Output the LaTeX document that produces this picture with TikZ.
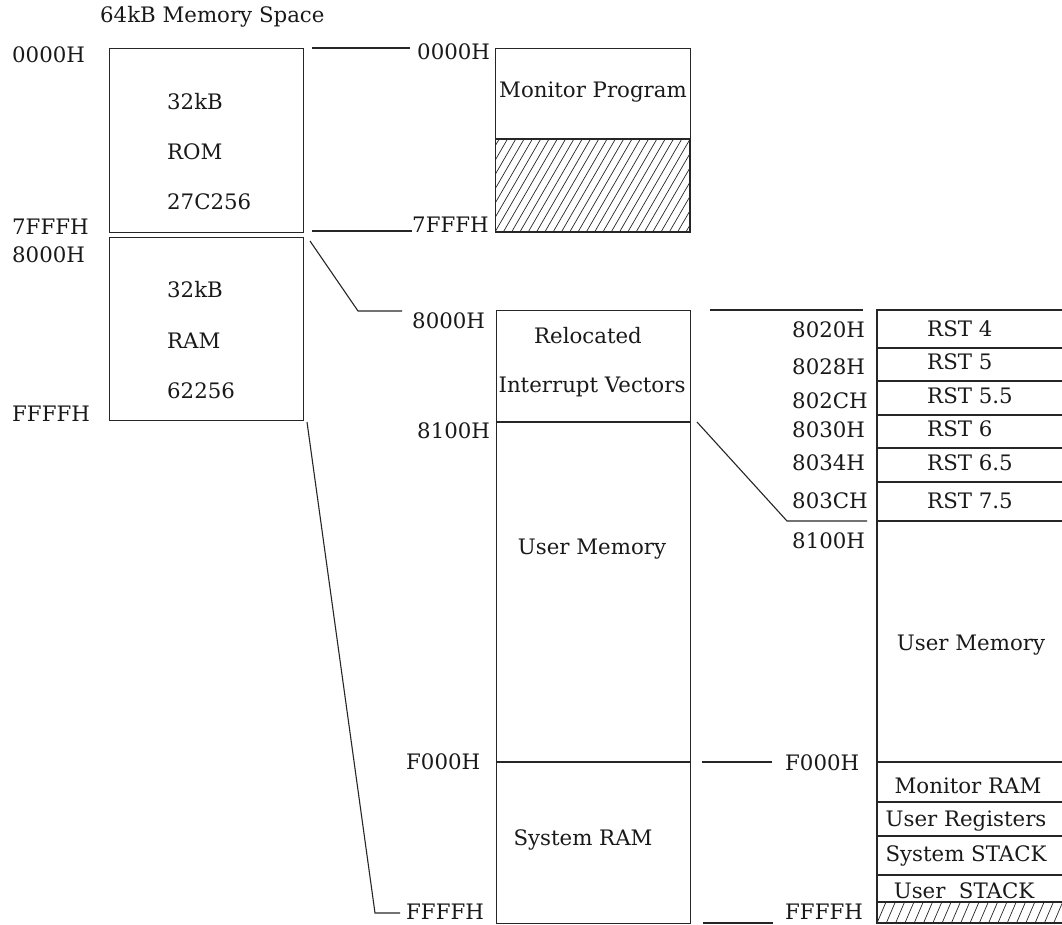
\documentclass[tikz,border=0pt]{standalone}
\usepackage{fontspec}
\setmainfont{DejaVu Serif}
\usetikzlibrary{calc}
\begin{document}
\begin{tikzpicture}[x=1pt,y=-1pt,
  txt/.style={inner sep=0pt, font=\fontsize{21.3}{25}\selectfont, text=black!90},
  lbl/.style={txt, anchor=base west},
  ctr/.style={txt, anchor=base},
  membox/.style={draw=black!85, line width=1.3pt, inner sep=0pt, anchor=north west},
  divider/.style={draw=black!85, line width=1.3pt},
  conn/.style={draw=black!85, line width=1.1pt},
  hatchln/.style={draw=black!85, line width=0.7pt}]
\useasboundingbox (0,0) rectangle (1062,925);

% ---------- left: 64kB memory space ----------
\node[lbl] (title) at (100,23) {64kB Memory Space};
\node[membox, minimum width=194pt, minimum height=184pt] (rom) at (109,48) {};
\node[membox, minimum width=194pt, minimum height=183pt] (ram) at (109,237) {};
\node[lbl] (a0) at (12,63) {0000H};
\node[lbl] (a1) at (12,235) {7FFFH};
\node[lbl] (a2) at (12,262) {8000H};
\node[lbl] (a3) at (12,421) {FFFFH};
\node[lbl] (r1) at (167,110) {32kB};
\node[lbl] (r2) at (167,160) {ROM};
\node[lbl] (r3) at (167,210) {27C256};
\node[lbl] (m1) at (167,297) {32kB};
\node[lbl] (m2) at (167,348) {RAM};
\node[lbl] (m3) at (167,398) {62256};

% ---------- monitor program (ROM) ----------
\node[membox, minimum width=195pt, minimum height=184pt] (mon) at (495,48) {};
\draw[divider] (495,139) -- (690,139);
\begin{scope}
  \clip (495,139) rectangle (690,232);
  \foreach \i in {-8,...,25} \draw[hatchln] (495+\i*8.3,232) -- ++(54,-93);
\end{scope}
\draw[divider] (690,139) -- (690,232) -- (495,232);
\node[ctr] (monl) at (593,98) {Monitor Program};
\node[lbl] (b0) at (417,60) {0000H};
\node[lbl] (b1) at (412,233) {7FFFH};

% ---------- middle: RAM map ----------
\node[membox, minimum width=194pt, minimum height=613pt] (mid) at (496,310) {};
\draw[divider] (496,422) -- (690,422);
\draw[divider] (496,762) -- (690,762);
\node[ctr] (reloc) at (588,343) {Relocated};
\node[ctr] (intv) at (592,392) {Interrupt Vectors};
\node[ctr] (umem) at (592,554) {User Memory};
\node[ctr] (sram) at (583,845) {System RAM};
\node[lbl] (c0) at (412,328) {8000H};
\node[lbl] (c1) at (417,438) {8100H};
\node[lbl] (c2) at (406,769) {F000H};
\node[lbl] (c3) at (406,919) {FFFFH};

% ---------- right: detail ----------
\draw[divider] (1062,310) -- (877,310) -- (877,923) -- (1062,923);
\foreach \y in {348,381,415,448,482,521,762,802,836,875,902}
  \draw[divider] (877,\y) -- (1062,\y);
\begin{scope}
  \clip (877,902) rectangle (1062,923);
  \foreach \i in {-2,...,21} \draw[hatchln] (877+\i*9.3,923) -- ++(9,-21);
\end{scope}
\node[lbl] (d0) at (792,337) {8020H};
\node[lbl] (d1) at (792,374) {8028H};
\node[lbl] (d2) at (792,408) {802CH};
\node[lbl] (d3) at (792,437) {8030H};
\node[lbl] (d4) at (792,470) {8034H};
\node[lbl] (d5) at (792,508) {803CH};
\node[lbl] (d6) at (792,548) {8100H};
\node[lbl] (d7) at (785,770) {F000H};
\node[lbl] (d8) at (785,919) {FFFFH};
\node[lbl] (s0) at (927,336) {RST 4};
\node[lbl] (s1) at (927,369) {RST 5};
\node[lbl] (s2) at (927,403) {RST 5.5};
\node[lbl] (s3) at (927,436) {RST 6};
\node[lbl] (s4) at (927,470) {RST 6.5};
\node[lbl] (s5) at (927,508) {RST 7.5};
\node[ctr] (umem2) at (971,650) {User Memory};
\node[ctr] (monram) at (968,793) {Monitor RAM};
\node[ctr] (ureg) at (966,826) {User Registers};
\node[ctr] (sstack) at (966,861) {System STACK};
\node[ctr] (ustack) at (964,898) {User\ \ STACK};

% ---------- connectors ----------
\coordinate (k1a) at (312,48);  \coordinate (k1b) at (410,48);
\coordinate (k2a) at (312,231); \coordinate (k2b) at (412,231);
\coordinate (k3a) at (310,241); \coordinate (k3m) at (358,311); \coordinate (k3b) at (402,311);
\coordinate (k4a) at (307,422); \coordinate (k4m) at (375,913); \coordinate (k4b) at (400,913);
\coordinate (k5a) at (710,310); \coordinate (k5b) at (863,310);
\coordinate (k6a) at (697,422); \coordinate (k6m) at (787,521); \coordinate (k6b) at (867,521);
\coordinate (k7a) at (702,762); \coordinate (k7b) at (772,762);
\coordinate (k8a) at (703,923); \coordinate (k8b) at (773,923);
\draw[conn] (k1a) -- (k1b);
\draw[conn] (k2a) -- (k2b);
\draw[conn] (k3a) -- (k3m) -- (k3b);
\draw[conn] (k4a) -- (k4m) -- (k4b);
\draw[conn] (k5a) -- (k5b);
\draw[conn] (k6a) -- (k6m) -- (k6b);
\draw[conn] (k7a) -- (k7b);
\draw[conn] (k8a) -- (k8b);
\end{tikzpicture}
\end{document}
